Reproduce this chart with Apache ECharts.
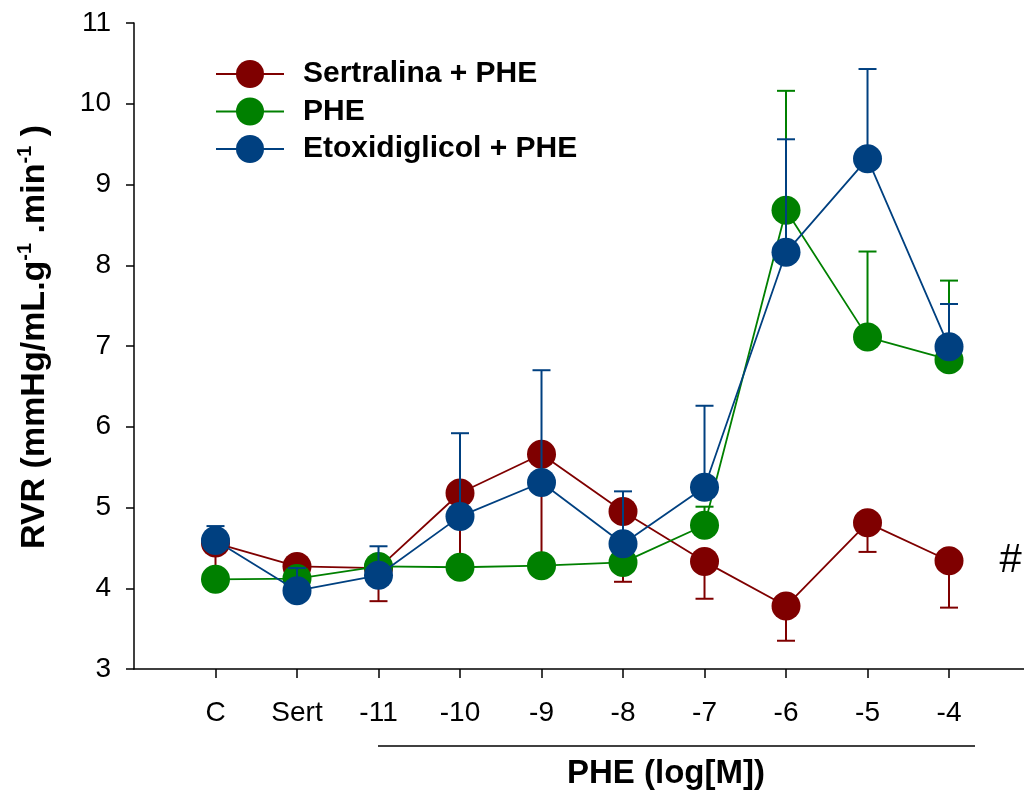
<!DOCTYPE html>
<html>
<head>
<meta charset="utf-8">
<title>RVR - PHE</title>
<script src="https://cdn.jsdelivr.net/npm/echarts@6/dist/echarts.min.js"></script>
<style>
html, body { margin: 0; padding: 0; background: #fff; }
#chart { width: 1024px; height: 801px; }
</style>
</head>
<body>
<div id="chart"></div>
<script>
// categorias do eixo x
const categories = ['C', 'Sert', '-11', '-10', '-9', '-8', '-7', '-6', '-5', '-4']

// Sertralina + PHE (barra de erro para baixo)
const sertMean = [4.56, 4.27, 4.25, 5.18, 5.66, 4.95, 4.33, 3.78, 4.81, 4.34]
const sertErrEnd = [4.2, 4.15, 3.84, 4.3, 4.3, 4.08, 3.87, 3.35, 4.45, 3.76]
const sertMark = [null, null, null, null, null, null, null, null, null, '#']

// PHE (barra de erro para cima)
const pheMean = [4.11, 4.12, 4.27, 4.26, 4.28, 4.32, 4.78, 8.68, 7.11, 6.83]
const pheErrEnd = [null, null, null, null, null, null, 5.01, 10.16, 8.17, 7.81]

// Etoxidiglicol + PHE (barra de erro para cima)
const etoMean = [4.59, 3.97, 4.16, 4.89, 5.31, 4.55, 5.25, 8.16, 9.32, 6.99]
const etoErrEnd = [4.77, 4.25, 4.52, 5.92, 6.70, 5.20, 6.26, 9.56, 10.43, 7.52]

const RED = '#7f0000'
const GREEN = '#008000'
const BLUE = '#004080'
const FONT = 'Arial, "Liberation Sans", sans-serif'

function errorSeries(color, means, ends, z) {
  return {
    type: 'custom',
    z,
    silent: true,
    data: ends.map((e, i) => [i, means[i], e]).filter(d => d[2] != null),
    encode: { x: 0, y: [1, 2] },
    renderItem(params, api) {
      const x = api.value(0)
      const p0 = api.coord([x, api.value(1)])
      const p1 = api.coord([x, api.value(2)])
      const half = 9
      return {
        type: 'group',
        children: [
          { type: 'line', shape: { x1: p0[0], y1: p0[1], x2: p1[0], y2: p1[1] }, style: { stroke: color, lineWidth: 2 } },
          { type: 'line', shape: { x1: p1[0] - half, y1: p1[1], x2: p1[0] + half, y2: p1[1] }, style: { stroke: color, lineWidth: 2 } }
        ]
      }
    }
  }
}

function lineSeries(name, color, means, z, marks) {
  return {
    name,
    type: 'line',
    z,
    symbol: 'circle',
    symbolSize: 29,
    lineStyle: { color, width: 1.8 },
    itemStyle: { color },
    data: means.map((v, i) => {
      const m = marks && marks[i]
      if (!m) return [i, v]
      return {
        value: [i, v],
        label: {
          show: true, formatter: m, position: 'right', distance: 36,
          fontSize: 40, color: '#000', fontFamily: FONT
        }
      }
    })
  }
}

const chart = echarts.init(document.getElementById('chart'))
chart.setOption({
  animation: false,
  backgroundColor: '#fff',
  grid: { left: 134, right: 0, top: 23, bottom: 132, outerBoundsMode: 'none' },
  legend: {
    data: ['Sertralina + PHE', 'PHE', 'Etoxidiglicol + PHE'],
    orient: 'vertical',
    left: 215,
    top: 59,
    padding: 0,
    itemWidth: 68,
    itemHeight: 35,
    itemGap: 7.5,
    selectedMode: false,
    textStyle: { fontSize: 30, fontWeight: 'bold', color: '#000', fontFamily: FONT, padding: [0, 0, 0, 14] }
  },
  xAxis: {
    type: 'value',
    min: -1,
    max: 9.92,
    splitLine: { show: false },
    axisLine: { onZero: false, lineStyle: { color: '#000', width: 1.5 } },
    axisTick: { show: true, length: 9, lineStyle: { color: '#000', width: 1.5 }, customValues: categories.map((c, i) => i) },
    axisLabel: {
      customValues: categories.map((c, i) => i),
      formatter: v => categories[v] ?? '',
      fontSize: 28, color: '#000', fontFamily: FONT, margin: 30
    }
  },
  yAxis: {
    type: 'value',
    min: 3,
    max: 11,
    interval: 1,
    splitLine: { show: false },
    axisLine: { show: true, onZero: false, lineStyle: { color: '#000', width: 1.5 } },
    axisTick: { show: true, length: 8, lineStyle: { color: '#000', width: 1.5 } },
    axisLabel: { fontSize: 28, color: '#000', fontFamily: FONT, margin: 23 }
  },
  graphic: [
    {
      type: 'text',
      x: 35,
      y: 337,
      rotation: Math.PI / 2,
      style: {
        text: '{a|RVR (mmHg/mL.g}{s|-1}{a| .min}{s|-1}{a| )}',
        align: 'center',
        verticalAlign: 'middle',
        fill: '#000',
        rich: {
          a: { fontSize: 34, fontWeight: 'bold', fontFamily: FONT, fill: '#000', lineHeight: 40 },
          s: { fontSize: 20, fontWeight: 'bold', fontFamily: FONT, fill: '#000', verticalAlign: 'top', lineHeight: 40 }
        }
      }
    },
    {
      type: 'line',
      shape: { x1: 378, y1: 746, x2: 975, y2: 746 },
      style: { stroke: '#000', lineWidth: 1.5 }
    },
    {
      type: 'text',
      x: 666,
      y: 774,
      style: {
        text: 'PHE (log[M])',
        align: 'center',
        verticalAlign: 'middle',
        fontSize: 33,
        fontWeight: 'bold',
        fontFamily: FONT,
        fill: '#000'
      }
    }
  ],
  series: [
    errorSeries(RED, sertMean, sertErrEnd, 2),
    lineSeries('Sertralina + PHE', RED, sertMean, 3, sertMark),
    errorSeries(GREEN, pheMean, pheErrEnd, 4),
    lineSeries('PHE', GREEN, pheMean, 5),
    errorSeries(BLUE, etoMean, etoErrEnd, 6),
    lineSeries('Etoxidiglicol + PHE', BLUE, etoMean, 7)
  ]
})
</script>
</body>
</html>
